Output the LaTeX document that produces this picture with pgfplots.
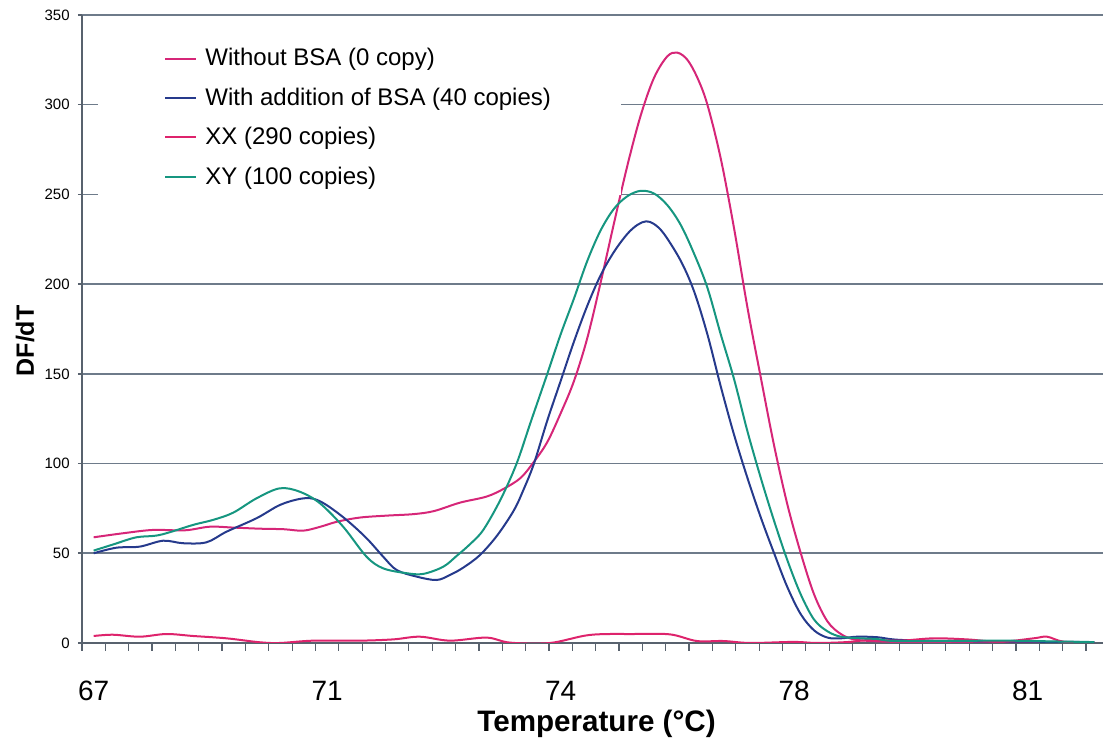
\documentclass[border=0pt]{standalone}
\usepackage{fontspec}
\setmainfont{Liberation Sans}
\usepackage{pgfplots}
\pgfplotsset{compat=1.18}

\definecolor{withoutbsa}{RGB}{214,38,120}
\definecolor{withbsa}{RGB}{38,58,140}
\definecolor{xxcol}{RGB}{222,35,108}
\definecolor{xycol}{RGB}{22,150,128}
\definecolor{gridcol}{RGB}{110,123,138}

\begin{document}
\begin{tikzpicture}
\path[use as bounding box] (-41pt,-52pt) rectangle (511.5pt,321.5pt);
\begin{axis}[
  scale only axis,
  width=510.5pt, height=314pt,
  xmin=66.825, xmax=82.13,
  ymin=0, ymax=350,
  axis x line*=bottom, axis y line*=left,
  axis line style={draw=gridcol!80!black, line width=0.8pt},
  ytick={0,50,...,350},
  ymajorgrids,
  grid style={draw=gridcol, line width=0.8pt},
  xtick={67,70.5,74,77.5,81},
  xticklabels={67,71,74,78,81},
  major x tick style={draw=none},
  minor xtick={66.825,67.175,...,81.9},
  minor x tick style={draw=gridcol!80!black, line width=0.6pt},
  major y tick style={draw=gridcol!80!black, line width=0.8pt},
  xtick align=outside, ytick align=outside,
  minor tick length=4pt, major tick length=2pt,
  /pgf/number format/assume math mode=true,
  xticklabel style={font=\fontsize{14}{16}\selectfont, inner sep=0pt},
  xticklabel shift=17pt,
  yticklabel style={font=\fontsize{7.5}{9}\selectfont, inner sep=0pt},
  yticklabel shift=4pt,
  xlabel={Temperature (°C)},
  ylabel={DF/dT},
  xlabel style={font=\bfseries\fontsize{14.8}{17}\selectfont, at={(axis description cs:0.504,-0.129)}, anchor=center},
  ylabel style={font=\bfseries\fontsize{12.5}{14}\selectfont, at={(axis description cs:-0.0558,0.481)}, anchor=center},
  legend style={at={(axis description cs:0.0157,0.960)}, anchor=north west,
    fill=white, draw=none, inner xsep=33pt, inner ysep=2pt,
    font=\fontsize{12}{14}\selectfont, row sep=5.5pt},
  legend cell align=left,
  legend image code/.code={\draw[#1] (0pt,0pt) -- (15.5pt,0pt); \path (17.5pt,0pt);},
  every axis plot/.append style={line width=1pt, smooth, tension=0.55},
]
% Without BSA (0 copy)
\addplot[withoutbsa] coordinates {
(67.00,58.9) (67.45,61.2) (67.89,63.0) (68.37,62.8) (68.74,64.8) (69.10,64.3)
(69.49,63.7) (69.85,63.4) (70.14,62.6) (70.40,64.8) (70.65,67.6) (70.99,69.9)
(71.40,71.0) (71.79,71.8) (72.10,73.5) (72.49,78.2) (72.89,81.6) (73.15,86.0)
(73.40,92.0) (73.60,101.0) (73.80,112.0) (74.00,128.0) (74.20,146.0) (74.40,170.0)
(74.60,201.0) (74.80,234.0) (75.00,266.0) (75.20,294.0) (75.40,315.0) (75.60,327.0)
(75.75,329.0) (75.90,325.0) (76.05,315.0) (76.20,300.0) (76.40,270.0) (76.60,231.0)
(76.80,187.0) (77.00,148.0) (77.20,110.0) (77.40,77.0) (77.60,50.0) (77.80,27.0)
(78.00,12.0) (78.20,5.0) (78.40,2.0) (78.70,1.0) (79.20,0.5) (80.00,0.3) (82.00,0.2)
};
\addlegendentry{Without BSA (0 copy)}
% With addition of BSA (40 copies)
\addplot[withbsa] coordinates {
(67.00,50.0) (67.34,53.1) (67.69,53.7) (68.04,57.0) (68.34,55.6) (68.69,56.1)
(68.99,62.0) (69.44,69.5) (69.79,76.9) (70.09,80.3) (70.29,80.4) (70.49,76.9)
(70.79,68.6) (71.09,58.4) (71.34,48.1) (71.54,40.7) (71.84,37.0) (72.14,35.1)
(72.34,37.9) (72.54,42.0) (72.79,49.0) (73.05,60.0) (73.30,74.0) (73.45,86.0)
(73.60,100.0) (73.80,124.0) (74.00,146.0) (74.20,168.0) (74.40,188.0) (74.60,205.0)
(74.80,218.0) (75.00,228.0) (75.15,233.0) (75.28,235.0) (75.40,233.5) (75.55,228.0)
(75.80,213.0) (76.00,196.0) (76.20,172.0) (76.40,143.0) (76.60,116.0) (76.80,92.0)
(77.00,70.0) (77.20,50.0) (77.40,31.0) (77.60,16.0) (77.80,7.0) (78.00,3.0)
(78.20,2.6) (78.44,3.5) (78.75,3.2) (79.10,1.7) (80.10,1.0) (82.00,0.5)
};
\addlegendentry{With addition of BSA (40 copies)}
% XX (290 copies)
\addplot[xxcol] coordinates {
(67.00,3.9) (67.29,4.6) (67.69,3.5) (68.09,5.0) (68.49,3.9) (68.99,2.6)
(69.49,0.4) (69.79,0.0) (70.29,1.3) (70.99,1.3) (71.49,2.0) (71.89,3.5)
(72.34,1.3) (72.89,3.0) (73.24,0.2) (73.84,0.0) (74.44,4.5) (75.09,5.0)
(75.64,4.8) (76.04,1.1) (76.44,1.1) (76.84,0.0) (77.49,0.6) (77.84,0.0)
(78.29,0.5) (78.64,1.7) (79.09,1.3) (79.59,2.6) (80.09,2.0) (80.59,0.7)
(81.09,2.6) (81.29,3.5) (81.54,0.7) (81.98,0.3)
};
\addlegendentry{XX (290 copies)}
% XY (100 copies)
\addplot[xycol] coordinates {
(67.00,51.5) (67.30,55.0) (67.64,58.9) (67.99,60.2) (68.49,65.8) (68.79,68.6)
(69.09,72.6) (69.44,80.6) (69.79,86.2) (70.09,84.3) (70.39,77.9) (70.74,64.8)
(71.09,48.1) (71.34,41.6) (71.69,38.9) (71.94,38.5) (72.24,42.5) (72.44,48.5)
(72.64,55.0) (72.84,63.0) (73.10,80.0) (73.34,100.0) (73.55,123.0) (73.80,150.0)
(74.00,172.0) (74.20,192.0) (74.40,213.0) (74.60,230.0) (74.80,242.0) (75.00,249.0)
(75.20,252.0) (75.40,250.5) (75.60,244.0) (75.80,233.0) (76.00,217.0) (76.20,198.0)
(76.40,172.0) (76.60,147.0) (76.80,118.0) (77.00,92.0) (77.20,68.0) (77.40,46.0)
(77.60,27.0) (77.80,13.0) (78.00,6.5) (78.20,3.5) (78.50,2.6) (78.75,2.2)
(79.10,1.0) (80.60,1.3) (81.50,0.8) (82.00,0.5)
};
\addlegendentry{XY (100 copies)}
\end{axis}
\end{tikzpicture}
\end{document}
